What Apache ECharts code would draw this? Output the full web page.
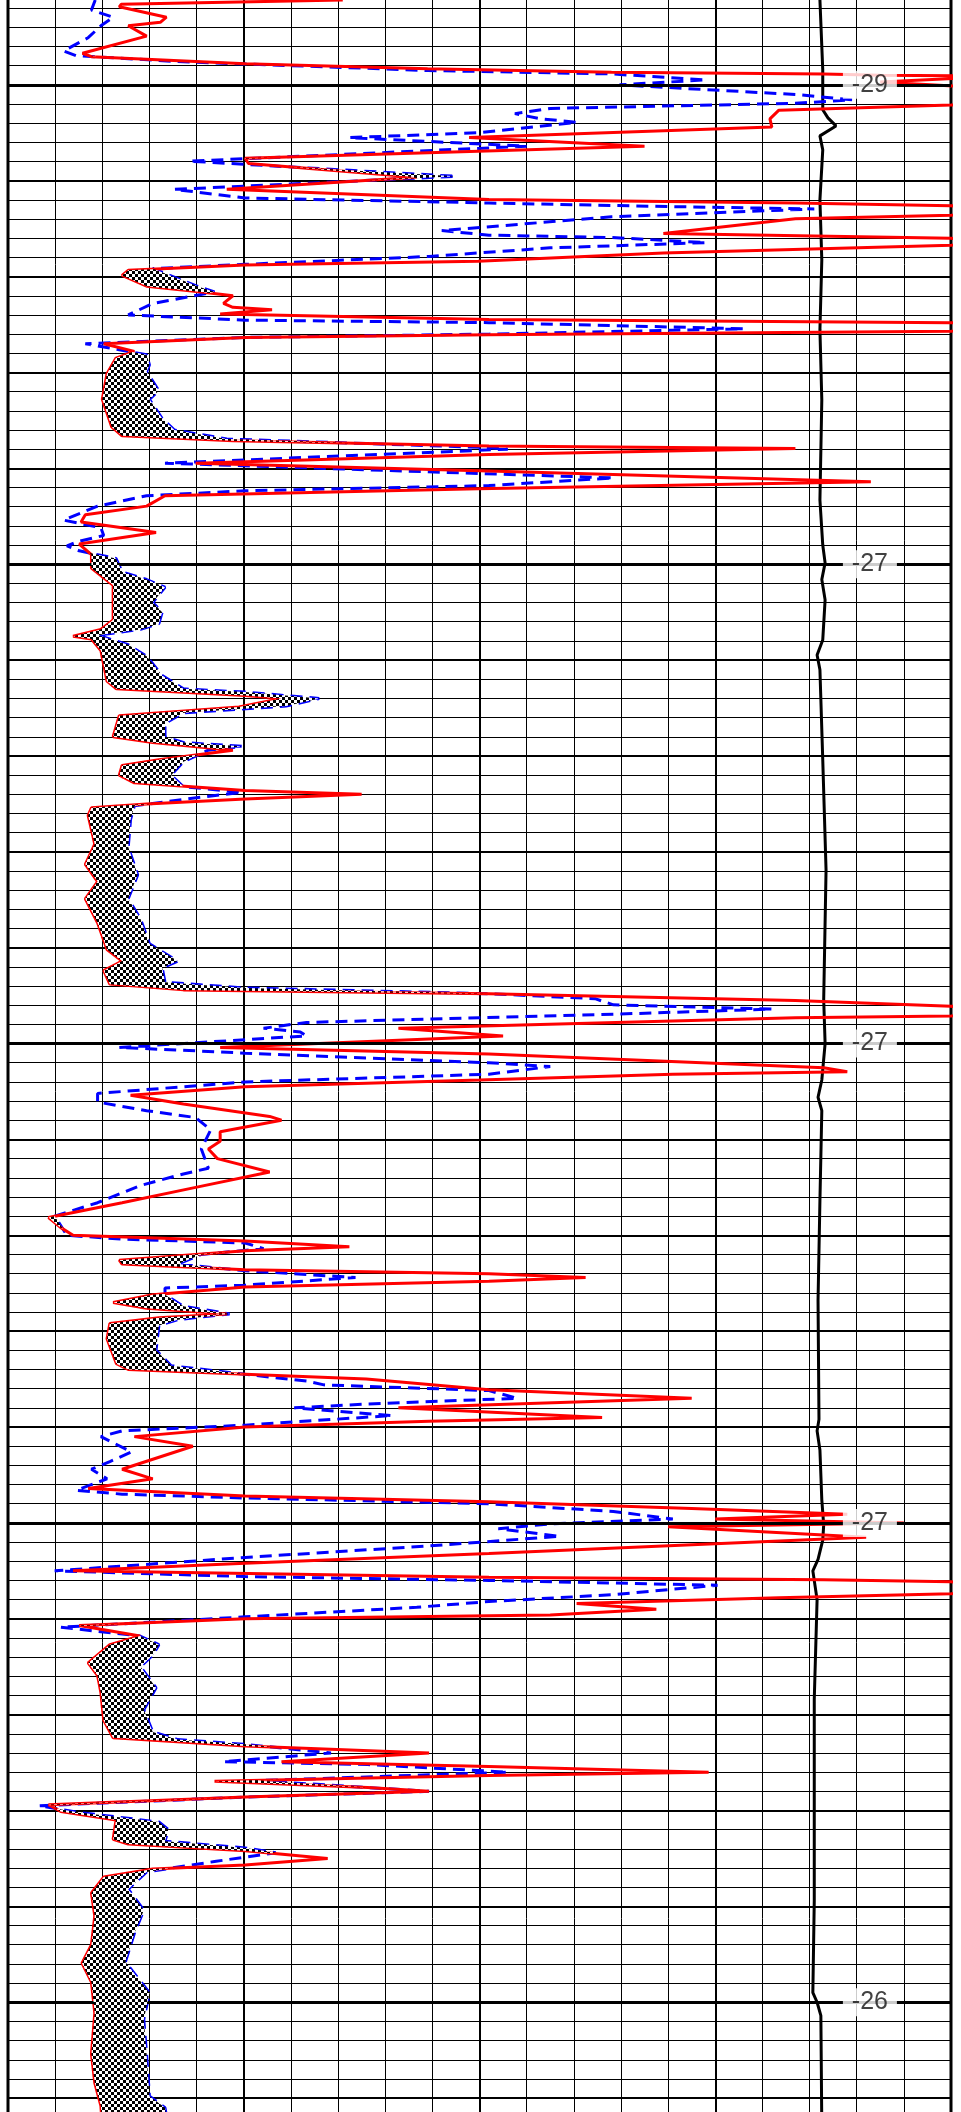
<!DOCTYPE html>
<html>
<head>
<meta charset="utf-8">
<script src="https://cdn.jsdelivr.net/npm/echarts@6/dist/echarts.min.js"></script>
<style>
html,body{margin:0;padding:0;background:#fff;overflow:hidden;width:961px;height:2112px;}
#c{position:absolute;left:0;top:-11px;width:961px;height:2205px;}
</style>
</head>
<body>
<div id="c"></div>
<script>
// ---- data (x in track units 0..20, depth in grid units) ----
const majorDepths = [0, 25, 50, 75, 100];
const markerLabels = ['-29', '-27', '-27', '-27', '-26'];

const redCurve = [
[7.1,-4.43],[2.4,-4.2],[2.36,-4.07],[3.36,-3.53],[3.23,-3.26],[2.55,-3.08],[2.94,-2.54],[1.58,-1.65],[1.77,-1.47],
[5.03,-1.1],[8.9,-0.84],[12.8,-0.66],[17.3,-0.57],[18.5,-0.5],[21,-0.45],[18.5,-0.15],[21,0.18],[21,0.9],[20,1.05],
[16.35,1.32],[16.16,1.77],[16.2,2.2],[9.78,2.75],[13.5,3.2],[5.03,3.83],[5.1,4.1],[8.67,4.82],[4.64,5.45],
[10.2,5.98],[16.7,6.16],[20,6.3],[21,6.55],[20,6.8],[16.7,6.98],[13.9,7.75],[20,8.0],[21,8.18],[20,8.36],
[13.9,8.77],[9.97,9.2],[5.03,9.4],[2.55,9.67],[2.42,9.94],[2.94,10.5],[4.1,10.8],[4.77,11.0],[4.57,11.4],
[4.77,11.6],[5.6,11.73],[4.5,11.95],[10.2,12.24],[20,12.4],[21,12.62],[20,12.85],[10.2,13.03],[5.03,13.17],
[2.03,13.5],[2.68,13.9],[2.29,14.25],[2.1,15.06],[2.0,16.4],[2.2,17.84],[2.42,18.3],[4.77,18.56],[10.2,18.83],
[16.7,18.97],[10.2,19.28],[3.98,19.73],[10.2,20.14],[18.3,20.7],[9.97,21.07],[3.33,21.43],[2.94,21.97],
[1.64,22.42],[1.55,22.8],[3.14,23.35],[1.51,23.95],[1.77,24.5],[1.77,25.2],[2.23,26.1],[2.23,27.9],[1.97,28.4],
[1.38,28.76],[1.77,28.9],[1.97,29.5],[2.1,31.1],[2.3,31.5],[5.03,31.85],[5.8,32.0],[4.9,32.45],[2.36,32.9],
[2.23,34.0],[3.07,34.3],[4.77,34.7],[3.2,35.2],[2.42,35.5],[2.36,36.0],[2.68,36.4],[5.03,36.8],[7.5,37.0],
[5.03,37.24],[2.94,37.5],[1.77,37.7],[1.7,38.1],[1.84,39.6],[1.64,40.65],[1.9,41.55],[1.64,42.45],[1.9,43.7],
[2.1,45.1],[2.42,45.7],[2.03,46.2],[2.16,46.9],[3.72,47.2],[10.2,47.4],[16.7,47.75],[20,48.05],[21,48.3],
[20,48.56],[16.7,48.65],[8.28,49.2],[10.5,49.6],[4.5,50.2],[10.2,50.54],[17.3,51.26],[17.8,51.47],[14.1,51.6],
[10.0,51.9],[5.03,52.25],[2.6,52.7],[3.72,53.15],[5.55,53.8],[5.8,54.0],[4.5,54.6],[4.5,55.1],[4.25,55.5],
[4.44,56.0],[5.55,56.7],[3.98,57.5],[2.42,58.3],[0.86,59.07],[1.12,59.6],[1.38,60.0],[5.03,60.3],[7.24,60.6],
[5.03,60.8],[2.36,61.3],[2.42,61.5],[5.03,61.8],[10.2,62.0],[12.25,62.2],[10.2,62.4],[5.03,62.7],[3.07,63.1],
[2.23,63.5],[2.94,63.8],[4.64,64.1],[3.2,64.3],[2.16,64.6],[2.1,65.4],[2.3,66.7],[2.55,67.0],[5.03,67.25],
[7.6,67.5],[10.2,68.05],[14.5,68.5],[8.28,69.0],[12.6,69.5],[8.93,69.7],[5.03,70.0],[2.68,70.5],[3.92,71.0],
[2.42,72.2],[3.07,72.7],[1.7,73.2],[5.03,73.6],[10.2,73.9],[14.5,74.25],[17.8,74.55],[15.0,74.8],[19.0,75.0],
[14.0,75.2],[18.2,75.75],[10.2,76.6],[5.03,77.1],[1.38,77.5],[10.2,77.84],[17.3,77.97],[20,78.07],[21,78.35],
[20,78.7],[16.35,78.9],[12.06,79.2],[13.75,79.5],[11.5,79.8],[5.03,80.0],[1.51,80.35],[2.8,80.9],[2.16,81.35],
[1.7,82.3],[1.9,82.96],[1.97,83.86],[2.03,85.3],[2.23,86.2],[5.03,86.64],[8.93,87.0],[5.8,87.45],[10.2,87.7],
[14.86,88.0],[10.2,88.17],[4.38,88.47],[7.63,88.8],[8.93,89.0],[5.03,89.3],[0.86,89.7],[1.12,90.05],[2.29,90.5],
[2.23,91.5],[2.55,91.75],[5.03,92.1],[6.78,92.5],[5.03,92.84],[3.07,93.05],[2.03,93.47],[1.77,94.3],[1.84,95.5],
[1.77,97.0],[1.57,97.96],[1.77,98.95],[1.84,100.56],[1.77,102.7],[1.84,104.2],[1.97,105.4],[2.0,106.5]
];

const blueCurve = [
[1.85,-4.43],[1.77,-3.9],[2.23,-3.53],[1.97,-3.08],[1.7,-2.46],[1.18,-1.77],[1.45,-1.52],[3.72,-1.2],[8.9,-0.75],
[12.8,-0.57],[14.8,-0.26],[12.97,0.0],[16.7,0.5],[17.9,0.78],[16.7,0.96],[11.5,1.23],[10.75,1.5],[11.3,1.77],
[12.06,1.95],[10.0,2.49],[7.24,2.75],[11.0,3.2],[3.85,3.98],[9.5,4.77],[3.53,5.45],[5.03,5.9],[10.2,6.16],
[14.1,6.35],[17.1,6.47],[12.8,6.88],[9.2,7.6],[10.2,7.84],[12.8,7.96],[14.8,8.23],[11.5,8.5],[8.93,8.95],
[5.03,9.36],[3.07,9.58],[3.98,10.47],[4.38,10.8],[3.07,11.4],[2.55,12.0],[5.03,12.27],[10.2,12.4],[15.6,12.72],
[10.2,13.0],[5.03,13.17],[1.64,13.5],[2.94,14.07],[3.0,14.6],[2.94,14.96],[3.2,15.95],[3.0,16.4],[3.27,17.4],
[3.53,18.0],[4.64,18.47],[10.2,18.92],[10.6,19.0],[3.33,19.73],[12.84,20.5],[10.2,20.9],[5.03,21.17],[2.94,21.43],
[1.9,21.97],[1.18,22.7],[1.97,23.1],[2.03,23.5],[1.51,23.8],[1.25,24.04],[1.51,24.3],[2.29,24.7],[2.42,25.4],
[2.94,25.8],[3.33,26.2],[3.07,27.0],[3.27,27.5],[3.2,28.1],[2.81,28.4],[1.9,28.7],[2.55,29.2],[2.94,29.8],
[3.27,30.8],[3.72,31.5],[5.03,31.67],[6.6,32.0],[5.9,32.4],[3.72,32.75],[3.33,33.3],[3.33,34.0],[3.72,34.3],
[4.96,34.5],[4.25,34.7],[3.72,35.3],[3.46,36.0],[3.72,36.6],[4.96,36.9],[4.1,37.15],[2.68,37.6],[2.6,38.3],
[2.55,39.75],[2.75,41.2],[2.55,42.45],[2.81,43.5],[3.0,44.8],[3.6,45.7],[3.27,46.05],[3.33,46.8],[5.03,47.1],
[10.2,47.4],[12.45,47.66],[12.84,47.98],[16.2,48.2],[12.84,48.47],[10.0,48.65],[6.33,48.9],[5.42,49.2],[6.2,49.4],
[6.33,49.6],[5.03,49.8],[2.36,50.2],[5.03,50.5],[10.2,51.0],[11.5,51.2],[10.2,51.6],[5.03,52.0],[1.9,52.6],
[1.9,53.05],[2.94,53.5],[3.98,53.86],[4.3,54.5],[4.1,55.5],[4.25,56.5],[3.72,56.8],[2.81,57.4],[1.9,58.3],
[0.99,59.0],[1.25,60.0],[2.42,60.2],[5.03,60.4],[5.42,60.7],[4.1,61.0],[3.6,61.5],[5.03,61.85],[7.37,62.2],
[5.03,62.6],[3.33,62.75],[3.33,63.1],[3.72,63.7],[4.7,64.1],[3.6,64.4],[3.2,64.7],[3.14,66.0],[3.46,66.8],
[5.03,67.25],[6.33,67.6],[6.7,67.8],[10.2,68.1],[10.8,68.5],[7.63,68.8],[6.07,69.0],[8.15,69.4],[5.03,69.9],
[2.42,70.2],[1.97,70.5],[2.62,71.3],[2.16,71.8],[1.77,72.2],[2.1,72.7],[1.45,73.3],[2.42,73.5],[5.03,73.7],
[10.2,74.0],[12.84,74.4],[14.1,74.8],[11.5,75.05],[10.4,75.3],[11.7,75.7],[8.93,76.2],[5.03,76.8],[0.99,77.5],
[5.03,77.8],[10.2,78.0],[15.05,78.25],[12.84,78.74],[10.2,79.1],[8.67,79.4],[5.03,79.9],[1.12,80.44],[2.8,80.9],
[3.2,81.35],[3.07,81.9],[2.81,82.5],[3.14,83.6],[2.88,84.75],[3.07,85.9],[3.6,86.3],[5.03,86.55],[6.85,87.0],
[4.57,87.45],[7.63,87.6],[10.6,88.0],[5.29,88.44],[8.93,89.0],[5.03,89.3],[0.66,89.75],[1.51,90.1],[3.2,90.6],
[3.4,91.0],[3.33,91.6],[5.03,91.95],[5.68,92.2],[4.38,92.66],[2.94,93.2],[2.55,94.1],[2.88,95.2],[2.68,96.4],
[2.49,97.9],[3.0,99.5],[2.88,100.9],[2.94,102.7],[3.0,104.9],[3.33,105.5],[3.4,106.5]
];

const spCurve = [
[17.22,-4.43],[17.28,-0.78],[17.28,1.3],[17.39,1.72],[17.56,2.14],[17.22,2.66],[17.28,3.39],[17.22,6.0],
[17.26,9.13],[17.22,12.78],[17.26,16.43],[17.22,21.65],[17.28,24.0],[17.33,24.93],[17.26,25.8],[17.33,26.86],
[17.28,28.95],[17.16,29.73],[17.22,30.5],[17.28,35.2],[17.35,40.95],[17.3,47.7],[17.33,50.0],[17.26,51.9],
[17.18,52.8],[17.26,53.5],[17.22,58.2],[17.18,63.4],[17.2,69.6],[17.16,70.2],[17.22,71.2],[17.26,73.8],
[17.3,75.1],[17.28,75.9],[17.18,76.9],[17.07,77.5],[17.16,79.0],[17.1,84.2],[17.1,94.7],[17.07,99.5],
[17.16,100.0],[17.24,100.7],[17.26,106.5]
];

// ---- fill between curves where blue lies right of red ----
function interp(c, d) {
  for (let i = 0; i < c.length - 1; i++) {
    const a = c[i], b = c[i + 1];
    if (d >= a[1] && d <= b[1]) {
      if (b[1] === a[1]) return a[0];
      return a[0] + (b[0] - a[0]) * (d - a[1]) / (b[1] - a[1]);
    }
  }
  return d < c[0][1] ? c[0][0] : c[c.length - 1][0];
}
function buildFillPolys(red, blue) {
  const lo = Math.max(red[0][1], blue[0][1]);
  const hi = Math.min(red[red.length - 1][1], blue[blue.length - 1][1]);
  let ds = red.map(p => p[1]).concat(blue.map(p => p[1])).filter(d => d >= lo && d <= hi);
  ds.sort((a, b) => a - b);
  ds = ds.filter((d, i) => i === 0 || d - ds[i - 1] > 1e-9);
  const pts = ds.map(d => ({ d, r: interp(red, d), b: interp(blue, d) }));
  const polys = [];
  let cur = null;
  for (let i = 0; i < pts.length; i++) {
    const p = pts[i];
    const diff = p.b - p.r;
    if (i > 0) {
      const q = pts[i - 1];
      const qd = q.b - q.r;
      if ((qd > 0) !== (diff > 0)) {
        const t = qd / (qd - diff);
        const dc = q.d + (p.d - q.d) * t;
        const xc = q.r + (p.r - q.r) * t;
        if (cur) { cur.push({ d: dc, r: xc, b: xc }); polys.push(cur); cur = null; }
        else { cur = [{ d: dc, r: xc, b: xc }]; }
      }
    }
    if (diff > 0) { if (!cur) cur = []; cur.push(p); }
  }
  if (cur) polys.push(cur);
  return polys.map(seg => seg.map(p => [p.b, p.d]).concat(seg.slice().reverse().map(p => [p.r, p.d])));
}
const fillPolys = buildFillPolys(redCurve, blueCurve);

// checker pattern
const cell = 3;
const pat = document.createElement('canvas');
pat.width = cell * 2; pat.height = cell * 2;
const pc = pat.getContext('2d');
pc.fillStyle = '#fff'; pc.fillRect(0, 0, cell * 2, cell * 2);
pc.fillStyle = '#000'; pc.fillRect(0, 0, cell, cell); pc.fillRect(cell, cell, cell, cell);

const labelX = 18.28;

const chart = echarts.init(document.getElementById('c'), null, { renderer: 'canvas' });
chart.setOption({
  animation: false,
  backgroundColor: '#fff',
  grid: { left: 8, right: 10, top: 0, bottom: 0, show: true, borderColor: '#000', borderWidth: 3, backgroundColor: '#fff' },
  xAxis: [
    { type: 'value', min: 0, max: 20, interval: 1, position: 'bottom',
      axisLine: { show: false }, axisTick: { show: false }, axisLabel: { show: false },
      splitLine: { show: true, lineStyle: { color: '#000', width: 1 } } },
    { type: 'value', min: 0, max: 20, interval: 5, position: 'top',
      axisLine: { show: false }, axisTick: { show: false }, axisLabel: { show: false },
      splitLine: { show: true, lineStyle: { color: '#000', width: 2 } } }
  ],
  yAxis: [
    { type: 'value', inverse: true, min: -5, max: 110, interval: 5,
      axisLine: { show: false }, axisTick: { show: false }, axisLabel: { show: false },
      splitLine: { show: true, lineStyle: { color: '#000', width: 2 } },
      minorTick: { show: false, splitNumber: 5 },
      minorSplitLine: { show: true, lineStyle: { color: '#000', width: 1 } } }
  ],
  series: [
    { type: 'line', name: 'major', data: [], z: 1, silent: true,
      markLine: { silent: true, symbol: ['none', 'none'], label: { show: false },
        lineStyle: { color: '#000', width: 3, type: 'solid' },
        data: majorDepths.map(d => ({ yAxis: d })) } },
    { type: 'line', name: 'SP', data: spCurve, showSymbol: false, symbol: 'none', z: 2, clip: true,
      lineStyle: { color: '#000', width: 3 } },
    { type: 'line', name: 'shallow', data: blueCurve, showSymbol: false, symbol: 'none', z: 3, clip: true,
      lineStyle: { color: '#0000ff', width: 3, type: [12, 7] } },
    { type: 'line', name: 'deep', data: redCurve, showSymbol: false, symbol: 'none', z: 4, clip: true,
      lineStyle: { color: '#ff0000', width: 3 } },
    { type: 'custom', name: 'fill', data: [[0, 0]], z: 5, silent: true,
      renderItem: function (params, api) {
        return { type: 'group', children: fillPolys.map(poly => ({
          type: 'polygon', shape: { points: poly.map(p => api.coord(p)) },
          style: { fill: { image: pat, repeat: 'repeat' }, stroke: null } })) };
      } },
    { type: 'scatter', name: 'labels', z: 10, silent: true,
      data: majorDepths.map((d, i) => [labelX, d, markerLabels[i]]),
      symbol: 'rect', symbolSize: [54, 28], itemStyle: { color: '#fff' },
      label: { show: true, position: 'inside', formatter: p => p.data[2],
        fontFamily: 'Liberation Sans, Arial, sans-serif', fontSize: 25, color: '#111' } }
  ]
});
</script>
</body>
</html>
